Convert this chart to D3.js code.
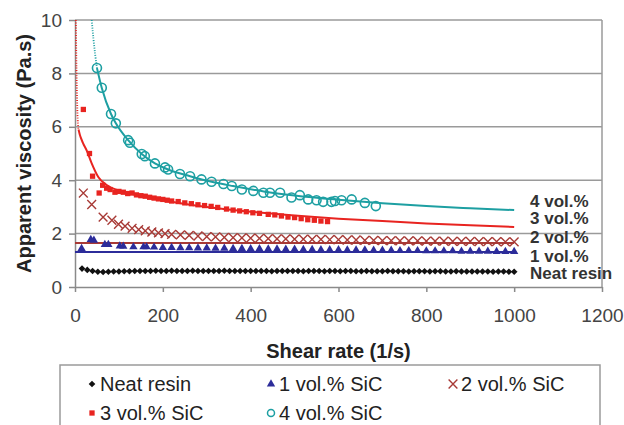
<!DOCTYPE html>
<html>
<head>
<meta charset="utf-8">
<script src="https://cdn.jsdelivr.net/npm/d3@7"></script>
<style>
  body { margin: 0; background: #fff; }
  text { font-family: "Liberation Sans", Arial, sans-serif; }
</style>
</head>
<body>
<div id="chart"></div>
<script>
// Data: [shear rate (1/s), apparent viscosity (Pa.s)]
const neatResin = [[16,0.69],[28,0.64],[40,0.6],[52,0.57],[64,0.56],[76,0.57],[88,0.58],[100,0.58],[112,0.59],[124,0.59],
  [136,0.6],[148,0.6],[160,0.6],[172,0.6],[184,0.61],[196,0.6],[208,0.6],[220,0.61],[232,0.6],[244,0.6],
  [256,0.6],[268,0.61],[280,0.6],[292,0.6],[304,0.6],[316,0.6],[328,0.6],[340,0.61],[352,0.6],[364,0.6],
  [376,0.6],[388,0.6],[400,0.6],[412,0.6],[424,0.6],[436,0.6],[448,0.59],[460,0.6],[472,0.6],[484,0.6],
  [496,0.6],[508,0.6],[520,0.59],[532,0.6],[544,0.6],[556,0.6],[568,0.59],[580,0.6],[592,0.6],[604,0.59],
  [616,0.6],[628,0.6],[640,0.59],[652,0.59],[664,0.6],[676,0.59],[688,0.59],[700,0.59],[712,0.6],[724,0.59],
  [736,0.59],[748,0.59],[760,0.58],[772,0.59],[784,0.59],[796,0.59],[808,0.58],[820,0.59],[832,0.59],[844,0.58],
  [856,0.58],[868,0.59],[880,0.58],[892,0.58],[904,0.58],[916,0.58],[928,0.58],[940,0.58],[952,0.57],[964,0.58],
  [976,0.58],[988,0.57],[1000,0.57]];

const vol1 = [[15,1.44],[36,1.78],[43,1.75],[68,1.59],[76,1.59],[102,1.53],[110,1.52],[133,1.5],[156,1.5],[163,1.5],
  [180,1.49],[200,1.48],[220,1.48],[240,1.47],[260,1.47],[280,1.46],[300,1.46],[320,1.45],[340,1.45],[360,1.44],
  [380,1.44],[400,1.43],[420,1.43],[440,1.42],[460,1.42],[480,1.41],[500,1.41],[520,1.4],[540,1.4],[560,1.39],
  [580,1.39],[600,1.39],[620,1.38],[640,1.38],[660,1.38],[680,1.37],[700,1.37],[720,1.37],[740,1.36],[760,1.36],
  [780,1.36],[800,1.35],[820,1.35],[840,1.35],[860,1.35],[880,1.34],[900,1.34],[920,1.34],[940,1.34],[960,1.33],
  [980,1.33],[1000,1.33]];

const vol2 = [[19,3.52],[38,3.09],[64,2.62],[84,2.5],[99,2.35],[114,2.28],[130,2.2],[145,2.15],[160,2.1],[175,2.06],
  [190,2.03],[205,2.0],[220,1.97],[240,1.95],[260,1.93],[280,1.91],[300,1.89],[320,1.88],[340,1.86],[360,1.85],
  [380,1.84],[400,1.83],[420,1.82],[440,1.81],[460,1.8],[480,1.8],[500,1.79],[520,1.79],[540,1.78],[560,1.78],
  [580,1.77],[600,1.77],[620,1.76],[640,1.76],[660,1.75],[680,1.75],[700,1.74],[720,1.74],[740,1.73],[760,1.73],
  [780,1.73],[800,1.72],[820,1.72],[840,1.72],[860,1.71],[880,1.71],[900,1.71],[920,1.7],[940,1.7],[960,1.7],
  [980,1.69],[1000,1.69]];

const vol3 = [[19,6.65],[33,5.0],[40,4.15],[55,3.52],[63,3.81],[72,3.7],[80,3.65],[91,3.55],[100,3.58],[110,3.55],
  [120,3.5],[130,3.52],[140,3.45],[150,3.42],[160,3.4],[170,3.36],[180,3.33],[190,3.3],[200,3.28],[210,3.25],
  [220,3.22],[235,3.2],[250,3.15],[265,3.12],[280,3.08],[295,3.05],[310,3.02],[325,2.98],[345,2.92],[360,2.88],
  [375,2.85],[390,2.82],[405,2.78],[420,2.76],[440,2.72],[455,2.7],[470,2.66],[485,2.62],[500,2.6],[515,2.56],
  [530,2.52],[545,2.5],[560,2.47],[575,2.45]];

const vol4 = [[50,8.2],[61,7.46],[82,6.48],[93,6.13],[121,5.5],[125,5.4],[152,4.98],[159,4.9],[182,4.63],[205,4.48],
  [212,4.4],[239,4.23],[262,4.15],[288,4.03],[311,3.94],[338,3.86],[357,3.78],[380,3.65],[406,3.6],[429,3.53],
  [444,3.53],[467,3.53],[493,3.35],[512,3.44],[531,3.28],[550,3.25],[565,3.19],[584,3.19],[592,3.22],[607,3.25],
  [630,3.28],[660,3.15],[685,3.03]];

// fitted curves
const fit1 = [[0,1.31],[1000,1.31]];
const fit2 = [[0,1.65],[1000,1.65]];
const fit3 = [[2,10],[3,8.6],[4.5,7.2],[6,6.3],[8,5.9],[11,5.7],[18,5.4],[27,5.1],[38,4.63],[53,4.12],[72,3.82],
  [102,3.6],[150,3.42],[200,3.25],[300,3.0],[400,2.82],[500,2.68],[600,2.56],[700,2.47],[800,2.38],[900,2.31],[1000,2.25]];
const fit4 = [[38,10],[42,9.3],[46,8.7],[50,8.2],[61,7.45],[82,6.48],[93,6.13],[121,5.5],[152,4.98],[182,4.63],
  [212,4.4],[262,4.15],[311,3.94],[360,3.78],[430,3.58],[500,3.43],[600,3.27],[700,3.14],[800,3.03],[900,2.95],[1000,2.88]];

const xTicks = [0, 200, 400, 600, 800, 1000, 1200];
const yTicks = [0, 2, 4, 6, 8, 10];
const endLabels = ["4 vol.%", "3 vol.%", "2 vol.%", "1 vol.%", "Neat resin"];
const legendLabels = ["Neat resin", "1 vol.% SiC", "2 vol.% SiC", "3 vol.% SiC", "4 vol.% SiC"];

const W = 624, H = 425;
const svg = d3.select("#chart").append("svg").attr("width", W).attr("height", H);

const x = d3.scaleLinear().domain([0, 1200]).range([75, 602]);
const y = d3.scaleLinear().domain([0, 10]).range([287, 20]);

const gridColor = "#9a9a9a";
const colors = { neat: "#111111", v1: "#2c2c9a", v2: "#a83a36", v3: "#e82420", v4: "#1d9fa2" };

// gridlines
svg.append("g").selectAll("line").data(yTicks.filter(d => d > 0)).join("line")
  .attr("x1", x(0)).attr("x2", x(1200))
  .attr("y1", d => y(d)).attr("y2", d => y(d))
  .attr("stroke", gridColor).attr("stroke-width", 1.5);
svg.append("line").attr("x1", x(1200)).attr("x2", x(1200)).attr("y1", y(0)).attr("y2", y(10))
  .attr("stroke", gridColor).attr("stroke-width", 1.5);

// axes
const yAxis = svg.append("g").attr("transform", `translate(${x(0)},0)`)
  .call(d3.axisLeft(y).tickValues(yTicks).tickSize(6).tickSizeOuter(0).tickPadding(7));
const xAxis = svg.append("g").attr("transform", `translate(0,${y(0)})`)
  .call(d3.axisBottom(x).tickValues(xTicks).tickFormat(d3.format("d"))
    .tickSize(5).tickSizeOuter(0).tickPadding(17));
[yAxis, xAxis].forEach(g => {
  g.select(".domain").attr("stroke", "#8a8a8a").attr("stroke-width", 1.5);
  g.selectAll(".tick line").attr("stroke", "#8a8a8a").attr("stroke-width", 1.5);
  g.selectAll(".tick text").attr("fill", "#444").style("font-size", "19px")
    .style("font-family", "'Liberation Sans', Arial, sans-serif");
});

svg.append("text").attr("x", (x(0) + x(1200)) / 2).attr("y", 358)
  .attr("text-anchor", "middle").attr("fill", "#222")
  .style("font-size", "20px").style("font-weight", "bold").text("Shear rate (1/s)");
svg.append("text").attr("transform", `translate(31,${(y(0) + y(10)) / 2}) rotate(-90)`)
  .attr("text-anchor", "middle").attr("fill", "#222")
  .style("font-size", "20px").style("font-weight", "bold").text("Apparent viscosity (Pa.s)");

// fitted lines
const line = d3.line().x(d => x(d[0])).y(d => y(d[1])).curve(d3.curveMonotoneX);
function drawFit(data, color, dottedUntil) {
  if (dottedUntil) {
    svg.append("path").datum(data.filter(d => d[0] <= dottedUntil))
      .attr("d", line).attr("fill", "none").attr("stroke", color)
      .attr("stroke-width", 1.8).attr("stroke-dasharray", "1,1.5");
  }
  svg.append("path").datum(data.filter(d => d[0] >= (dottedUntil || 0)))
    .attr("d", line).attr("fill", "none").attr("stroke", color).attr("stroke-width", 2);
}
drawFit(fit2, colors.v2);
drawFit(fit1, colors.v1);
drawFit(fit3, colors.v3, 8);
drawFit(fit4, colors.v4, 50);

// markers
const diamond = d3.symbol().type(d3.symbolSquare).size(22);
const triangle = d3.symbol().type(d3.symbolTriangle).size(30);
const square = d3.symbol().type(d3.symbolSquare).size(28);
const cross = d3.symbol().type(d3.symbolX).size(52);

function drawSeries(data, sym, style, rot) {
  const sel = svg.append("g").selectAll("path").data(data).join("path")
    .attr("transform", d => `translate(${x(d[0])},${y(d[1])})` + (rot ? " rotate(45)" : ""))
    .attr("d", sym);
  style(sel);
}
drawSeries(neatResin, diamond, s => s.attr("fill", colors.neat), true);
drawSeries(vol1, triangle, s => s.attr("fill", colors.v1));
drawSeries(vol2, cross, s => s.attr("fill", "none").attr("stroke", colors.v2).attr("stroke-width", 1.4));
drawSeries(vol3, square, s => s.attr("fill", colors.v3));
svg.append("g").selectAll("circle").data(vol4).join("circle")
  .attr("cx", d => x(d[0])).attr("cy", d => y(d[1])).attr("r", 4.5)
  .attr("fill", "none").attr("stroke", colors.v4).attr("stroke-width", 1.6);

// labels at right end of curves
const endY = [207, 224, 243, 261.5, 278.5];
svg.append("g").selectAll("text").data(endLabels).join("text")
  .attr("x", 530).attr("y", (d, i) => endY[i]).attr("fill", "#333")
  .style("font-size", "17px").style("font-weight", "bold").text(d => d);

// legend
svg.append("rect").attr("x", 60).attr("y", 365).attr("width", 540).attr("height", 80)
  .attr("fill", "none").attr("stroke", gridColor).attr("stroke-width", 1.5);
const legPos = [[92, 384], [271, 384], [453, 384], [92, 413], [271, 413]];
const legSym = [diamond, triangle, cross, square, null];
const legColor = [colors.neat, colors.v1, colors.v2, colors.v3, colors.v4];
const leg = svg.append("g").selectAll("g").data(legendLabels).join("g")
  .attr("transform", (d, i) => `translate(${legPos[i][0]},${legPos[i][1]})`);
leg.each(function (d, i) {
  const g = d3.select(this);
  if (i === 4) {
    g.append("circle").attr("r", 3.5).attr("fill", "none").attr("stroke", legColor[i]).attr("stroke-width", 1.5);
  } else if (i === 2) {
    g.append("path").attr("d", legSym[i]).attr("fill", "none").attr("stroke", legColor[i]).attr("stroke-width", 1.4);
  } else {
    g.append("path").attr("d", legSym[i]).attr("fill", legColor[i])
      .attr("transform", i === 0 ? "rotate(45)" : null);
  }
  g.append("text").attr("x", 8).attr("y", 7).attr("fill", "#222")
    .style("font-size", "20px").text(d);
});
</script>
</body>
</html>
